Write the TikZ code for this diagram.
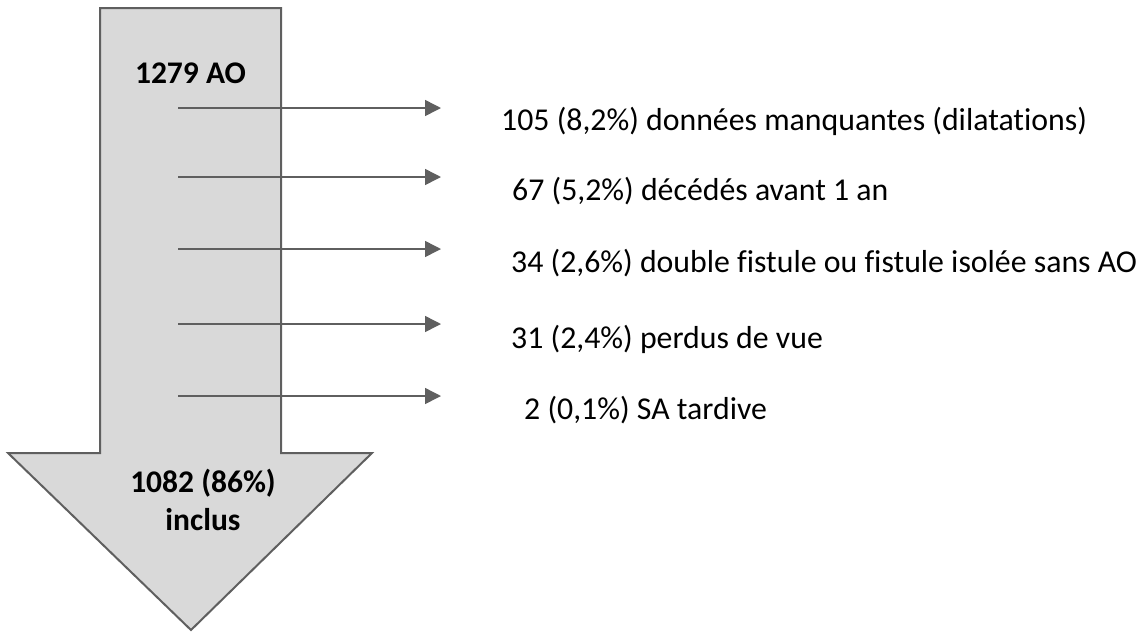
\documentclass[tikz,border=0pt]{standalone}
\usepackage{fontspec}
\setmainfont[Ligatures=NoCommon]{Carlito}
\usetikzlibrary{arrows.meta}
\definecolor{shade}{HTML}{D9D9D9}
\definecolor{edge}{HTML}{5F5F5F}
\tikzset{
  bigarrow/.style={draw=edge, line width=2pt, fill=shade, line join=miter},
  conn/.style={draw=edge, line width=1.5pt, -{Triangle[length=16pt,width=16pt]}},
  lbl/.style={anchor=base west, inner sep=0pt, font=\fontsize{31.8}{38}\selectfont},
  blbl/.style={anchor=base, inner sep=0pt, font=\fontsize{31.5}{38}\selectfont\bfseries}
}
\begin{document}
\begin{tikzpicture}[x=1pt,y=-1pt]
\useasboundingbox (0,0) rectangle (1148,633);
\draw[bigarrow] (100,8) -- (281,8) -- (281,453) -- (372,453) -- (191,630) -- (8,453) -- (100,453) -- cycle;
\node[blbl] (top) at (190.5,83) {1279 AO};
\node[blbl] (inc1) at (203,492) {1082 (86\%)};
\node[blbl] (inc2) at (203,530) {inclus};
\node[lbl] (t1) at (501,130) {105 (8,2\%) données manquantes (dilatations)};
\node[lbl] (t2) at (512,200) {67 (5,2\%) décédés avant 1 an};
\node[lbl] (t3) at (511,272) {34 (2,6\%) double fistule ou fistule isolée sans AO};
\node[lbl] (t4) at (511,348) {31 (2,4\%) perdus de vue};
\node[lbl] (t5) at (524,419) {2 (0,1\%) SA tardive};
\foreach \i/\y in {1/108,2/177,3/249,4/324,5/396}{
  \coordinate (s\i) at (178,\y);
  \coordinate (e\i) at (441,\y);
  \draw[conn] (s\i) -- (e\i);
}
\end{tikzpicture}
\end{document}
